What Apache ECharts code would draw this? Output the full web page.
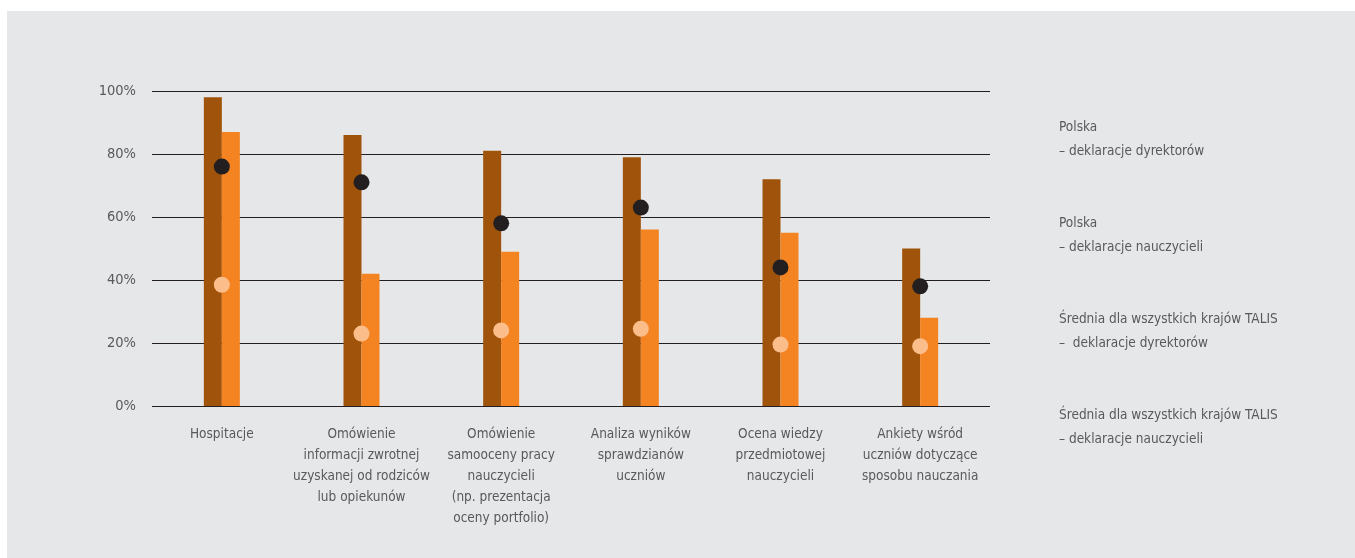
<!DOCTYPE html>
<html>
<head>
<meta charset="utf-8">
<script src="https://cdn.jsdelivr.net/npm/echarts@6/dist/echarts.min.js"></script>
<style>
  html, body { margin: 0; padding: 0; background: #ffffff; }
  #chart { width: 1355px; height: 558px; }
</style>
</head>
<body>
<div id="chart"></div>
<script>
// Categories of the evaluation methods
const categories = [
  'Hospitacje',
  'Omówienie\ninformacji zwrotnej\nuzyskanej od rodziców\nlub opiekunów',
  'Omówienie\nsamooceny pracy\nnauczycieli\n(np. prezentacja\noceny portfolio)',
  'Analiza wyników\nsprawdzianów\nuczniów',
  'Ocena wiedzy\nprzedmiotowej\nnauczycieli',
  'Ankiety wśród\nuczniów dotyczące\nsposobu nauczania'
];

// Series names (legend)
const seriesNames = [
  'Polska\n– deklaracje dyrektorów',
  'Polska\n– deklaracje nauczycieli',
  'Średnia dla wszystkich krajów TALIS\n–  deklaracje dyrektorów',
  'Średnia dla wszystkich krajów TALIS\n– deklaracje nauczycieli'
];

// Percentages
const plDirectors   = [98, 86, 81, 79, 72, 50];
const plTeachers    = [87, 42, 49, 56, 55, 28];
const talisDirectors = [76, 71, 58, 63, 44, 38];
const talisTeachers  = [38.5, 23, 24, 24.5, 19.5, 19];

// Y axis ticks
const yTicks = [0, 20, 40, 60, 80, 100];

const textColor = '#58595b';
const fontFamily = '"Liberation Sans Narrow", "DejaVu Sans Condensed", "Liberation Sans", sans-serif';

const chart = echarts.init(document.getElementById('chart'), null, { renderer: 'canvas' });

chart.setOption({
  backgroundColor: '#ffffff',
  animation: false,
  graphic: [{
    type: 'rect',
    z: -10,
    silent: true,
    shape: { x: 7, y: 11, width: 1348, height: 547 },
    style: { fill: '#e6e7e8' }
  }],
  grid: { left: 152, right: 365, top: 91, bottom: 152, containLabel: false },
  legend: {
    orient: 'vertical',
    left: 1049,
    top: 110,
    itemWidth: 0,
    itemHeight: 0,
    itemGap: 48,
    icon: 'rect',
    selectedMode: false,
    data: seriesNames,
    textStyle: {
      color: textColor,
      fontFamily: fontFamily,
      fontSize: 13.5,
      lineHeight: 24
    }
  },
  xAxis: {
    type: 'category',
    data: categories,
    axisLine: { show: false },
    axisTick: { show: false },
    axisLabel: {
      interval: 0,
      margin: 18,
      color: textColor,
      fontFamily: fontFamily,
      fontSize: 13.5,
      lineHeight: 21,
      align: 'center',
      verticalAlign: 'top'
    }
  },
  yAxis: {
    type: 'value',
    min: 0,
    max: 100,
    interval: 20,
    axisLine: { show: false },
    axisTick: { show: false },
    splitLine: { lineStyle: { color: '#231f20', width: 1 } },
    axisLabel: {
      margin: 16,
      color: textColor,
      fontFamily: fontFamily,
      fontSize: 14.5,
      formatter: v => yTicks.includes(v) ? v + '%' : ''
    }
  },
  series: [
    {
      name: seriesNames[0],
      type: 'bar',
      data: plDirectors,
      barWidth: 18,
      barGap: '0%',
      itemStyle: { color: '#a0530a' },
      z: 2
    },
    {
      name: seriesNames[1],
      type: 'bar',
      data: plTeachers,
      barWidth: 18,
      barGap: '0%',
      itemStyle: { color: '#f48322' },
      z: 2
    },
    {
      name: seriesNames[2],
      type: 'scatter',
      data: talisDirectors,
      symbol: 'circle',
      symbolSize: 16,
      itemStyle: { color: '#231f20', opacity: 1 },
      z: 5
    },
    {
      name: seriesNames[3],
      type: 'scatter',
      data: talisTeachers,
      symbol: 'circle',
      symbolSize: 16,
      itemStyle: { color: '#fbbd89', opacity: 1 },
      z: 5
    }
  ]
});
</script>
</body>
</html>
